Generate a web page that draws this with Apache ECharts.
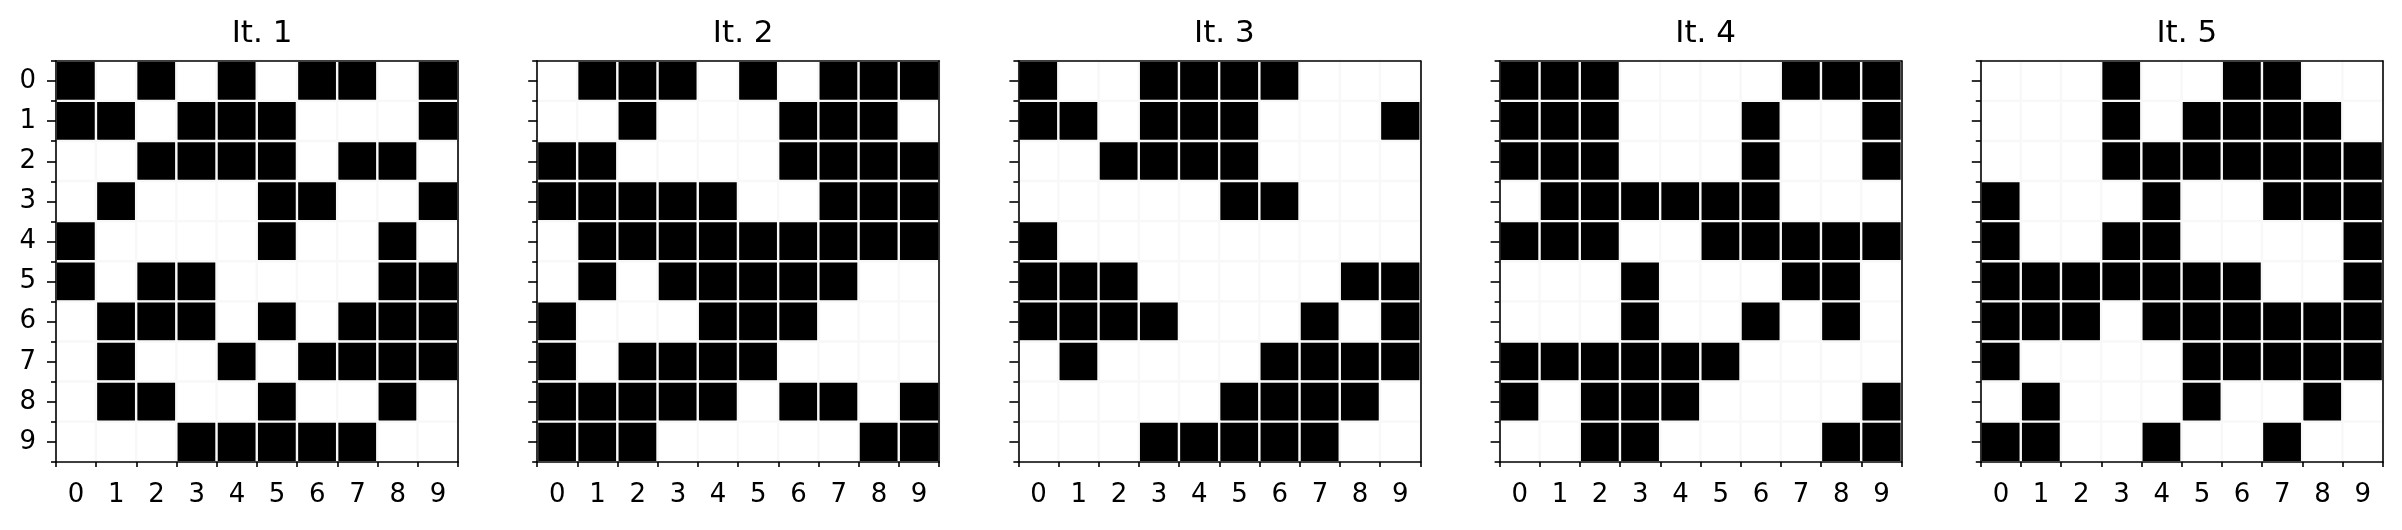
<!DOCTYPE html>
<html>
<head>
<meta charset="utf-8">
<style>
  html, body { margin: 0; padding: 0; background: #fff; }
  #chart { width: 2402px; height: 530px; }
</style>
<script src="https://cdn.jsdelivr.net/npm/echarts@6/dist/echarts.min.js"></script>
</head>
<body>
<div id="chart"></div>
<script>
// ---- data ----
const categories = ['0','1','2','3','4','5','6','7','8','9'];
const titles = ['It. 1', 'It. 2', 'It. 3', 'It. 4', 'It. 5'];

const it1 = [
  [1,0,1,0,1,0,1,1,0,1],
  [1,1,0,1,1,1,0,0,0,1],
  [0,0,1,1,1,1,0,1,1,0],
  [0,1,0,0,0,1,1,0,0,1],
  [1,0,0,0,0,1,0,0,1,0],
  [1,0,1,1,0,0,0,0,1,1],
  [0,1,1,1,0,1,0,1,1,1],
  [0,1,0,0,1,0,1,1,1,1],
  [0,1,1,0,0,1,0,0,1,0],
  [0,0,0,1,1,1,1,1,0,0]
];
const it2 = [
  [0,1,1,1,0,1,0,1,1,1],
  [0,0,1,0,0,0,1,1,1,0],
  [1,1,0,0,0,0,1,1,1,1],
  [1,1,1,1,1,0,0,1,1,1],
  [0,1,1,1,1,1,1,1,1,1],
  [0,1,0,1,1,1,1,1,0,0],
  [1,0,0,0,1,1,1,0,0,0],
  [1,0,1,1,1,1,0,0,0,0],
  [1,1,1,1,1,0,1,1,0,1],
  [1,1,1,0,0,0,0,0,1,1]
];
const it3 = [
  [1,0,0,1,1,1,1,0,0,0],
  [1,1,0,1,1,1,0,0,0,1],
  [0,0,1,1,1,1,0,0,0,0],
  [0,0,0,0,0,1,1,0,0,0],
  [1,0,0,0,0,0,0,0,0,0],
  [1,1,1,0,0,0,0,0,1,1],
  [1,1,1,1,0,0,0,1,0,1],
  [0,1,0,0,0,0,1,1,1,1],
  [0,0,0,0,0,1,1,1,1,0],
  [0,0,0,1,1,1,1,1,0,0]
];
const it4 = [
  [1,1,1,0,0,0,0,1,1,1],
  [1,1,1,0,0,0,1,0,0,1],
  [1,1,1,0,0,0,1,0,0,1],
  [0,1,1,1,1,1,1,0,0,0],
  [1,1,1,0,0,1,1,1,1,1],
  [0,0,0,1,0,0,0,1,1,0],
  [0,0,0,1,0,0,1,0,1,0],
  [1,1,1,1,1,1,0,0,0,0],
  [1,0,1,1,1,0,0,0,0,1],
  [0,0,1,1,0,0,0,0,1,1]
];
const it5 = [
  [0,0,0,1,0,0,1,1,0,0],
  [0,0,0,1,0,1,1,1,1,0],
  [0,0,0,1,1,1,1,1,1,1],
  [1,0,0,0,1,0,0,1,1,1],
  [1,0,0,1,1,0,0,0,0,1],
  [1,1,1,1,1,1,1,0,0,1],
  [1,1,1,0,1,1,1,1,1,1],
  [1,0,0,0,0,1,1,1,1,1],
  [0,1,0,0,0,1,0,0,1,0],
  [1,1,0,0,1,0,0,1,0,0]
];
const iterations = [it1, it2, it3, it4, it5];

// ---- layout ----
const FONT = 'DejaVu Sans';
const gridLeft0 = 56, gridStep = 481.2, gridW = 402, gridTop = 61, gridH = 401;
const LW = 1.6;

const grids = [], xAxes = [], yAxes = [], series = [], titleList = [];

iterations.forEach((mat, i) => {
  const left = gridLeft0 + gridStep * i;
  grids.push({ left: left, top: gridTop, width: gridW, height: gridH, containLabel: false });
  titleList.push({
    text: titles[i], left: left + gridW / 2, top: 13, textAlign: 'center',
    textStyle: { fontFamily: FONT, fontSize: 31, fontWeight: 'normal', color: '#000' }
  });
  // bottom x axis: labels at centers, ticks at cell boundaries
  xAxes.push({
    type: 'category', gridIndex: i, data: categories, position: 'bottom', z: 10,
    axisLine: { show: true, lineStyle: { color: '#000', width: LW } },
    axisTick: { show: true, length: 5, lineStyle: { color: '#000', width: LW } },
    axisLabel: { show: true, margin: 20, fontFamily: FONT, fontSize: 26, color: '#000' },
    splitLine: { show: false }
  });
  // top frame
  xAxes.push({
    type: 'category', gridIndex: i, data: categories, position: 'top', z: 10,
    axisLine: { show: true, lineStyle: { color: '#000', width: LW } },
    axisTick: { show: false }, axisLabel: { show: false }, splitLine: { show: false }
  });
  // left y axis: labels + major ticks at centers
  yAxes.push({
    type: 'category', gridIndex: i, data: categories, inverse: true, position: 'left', z: 10,
    axisLine: { show: true, lineStyle: { color: '#000', width: LW } },
    axisTick: { show: true, alignWithLabel: true, length: 9, lineStyle: { color: '#000', width: LW } },
    axisLabel: { show: i === 0, margin: 20, fontFamily: FONT, fontSize: 26, color: '#000' },
    splitLine: { show: false }
  });
  // left y axis: minor ticks at cell boundaries
  yAxes.push({
    type: 'category', gridIndex: i, data: categories, inverse: true, position: 'left', z: 10,
    axisLine: { show: false },
    axisTick: { show: true, length: 5, lineStyle: { color: '#000', width: LW } },
    axisLabel: { show: false }, splitLine: { show: false }
  });
  // right frame
  yAxes.push({
    type: 'category', gridIndex: i, data: categories, inverse: true, position: 'right', z: 10,
    axisLine: { show: true, lineStyle: { color: '#000', width: LW } },
    axisTick: { show: false }, axisLabel: { show: false }, splitLine: { show: false }
  });

  const data = [];
  mat.forEach((row, r) => row.forEach((v, c) => data.push([c, r, v])));
  series.push({
    type: 'heatmap', xAxisIndex: i * 2, yAxisIndex: i * 3, data: data,
    itemStyle: { borderColor: '#f8f8f8', borderWidth: 2.4 },
    emphasis: { disabled: true }, progressive: 0, animation: false
  });
});

const chart = echarts.init(document.getElementById('chart'), null, { renderer: 'canvas' });
chart.setOption({
  backgroundColor: '#ffffff',
  animation: false,
  title: titleList,
  grid: grids,
  xAxis: xAxes,
  yAxis: yAxes,
  visualMap: {
    type: 'piecewise', show: false, dimension: 2,
    seriesIndex: [0, 1, 2, 3, 4],
    pieces: [ { value: 0, color: '#ffffff' }, { value: 1, color: '#000000' } ]
  },
  series: series
});
</script>
</body>
</html>
